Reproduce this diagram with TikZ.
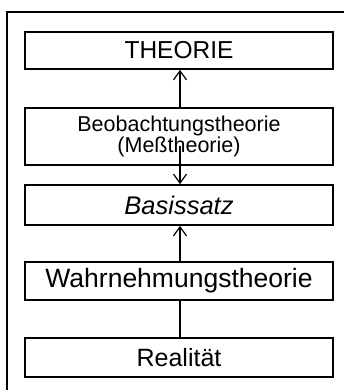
\documentclass[tikz,border=0pt]{standalone}
\usepackage{fontspec}
\setmainfont{Liberation Sans}
\usetikzlibrary{arrows.meta}
\begin{document}
\begin{tikzpicture}[x=1pt,y=-1pt,
  box/.style={draw=black,line width=1.7pt,minimum width=308pt,inner sep=0pt,align=center,anchor=center},
  conn/.style={line width=1.2pt},
  arr/.style={conn,-{Straight Barb[length=9pt,width=13pt,line width=1.2pt]}}]
\useasboundingbox (0,0) rectangle (343,390);
\draw[line width=2.4pt] (7,400) -- (7,12) -- (350,12);
\node[box,minimum height=37pt,font=\fontsize{24.5}{26}\selectfont] (theo) at (179,50.5) {THEORIE};
\node[box,minimum height=57pt,font=\fontsize{21.5}{21.5}\selectfont] (beob) at (179,136.5) {Beobachtungstheorie\\(Meßtheorie)};
\node[box,minimum height=40pt,font=\fontsize{25.5}{27}\selectfont\itshape] (basis) at (179,205) {Basissatz};
\node[box,minimum height=38pt,font=\fontsize{26.5}{28}\selectfont] (wahr) at (179,281) {Wahrnehmungstheorie};
\node[box,minimum height=39pt,font=\fontsize{25}{27}\selectfont] (real) at (179,357.5) {Realität};
\coordinate (bstart) at (180,146);
\draw[arr] (beob.north -| bstart) -- (theo.south -| bstart);
\draw[arr] (bstart) -- (basis.north -| bstart);
\draw[arr] (wahr.north -| bstart) -- (basis.south -| bstart);
\draw[conn] (wahr.south -| bstart) -- (real.north -| bstart);
\end{tikzpicture}
\end{document}
